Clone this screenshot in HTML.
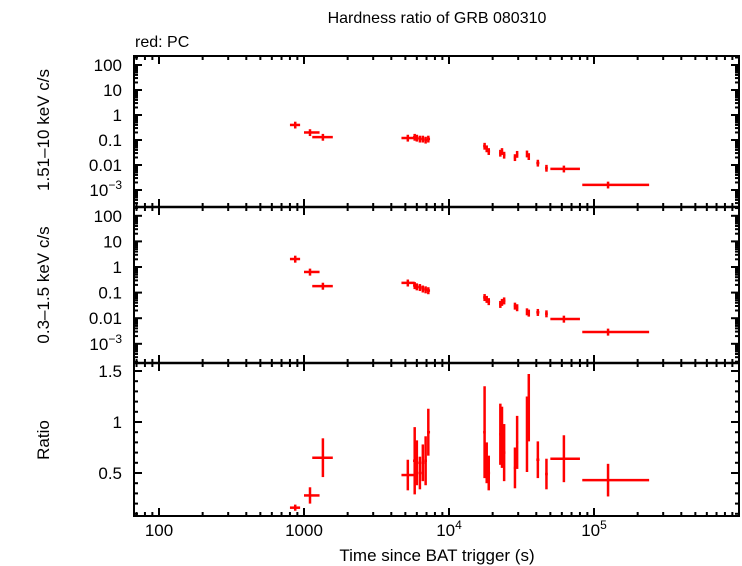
<!DOCTYPE html>
<html><head><meta charset="utf-8"><style>
body{margin:0;background:#fff;}
svg{display:block;font-family:"Liberation Sans",sans-serif;}
</style></head><body>
<svg id="c" width="742" height="566" viewBox="0 0 742 566">
<text x="437" y="23" font-size="16" text-anchor="middle">Hardness ratio of GRB 080310</text>
<text x="135" y="47" font-size="16">red: PC</text>
<text transform="translate(49,130) rotate(-90)" font-size="17" text-anchor="middle">1.51–10 keV c/s</text>
<text transform="translate(49,285) rotate(-90)" font-size="17" text-anchor="middle">0.3–1.5 keV c/s</text>
<text transform="translate(49,440) rotate(-90)" font-size="17" text-anchor="middle">Ratio</text>
<text x="437" y="561" font-size="17" text-anchor="middle">Time since BAT trigger (s)</text>
<g id="g"></g>
</svg>
<script>
const times = [870,1100,1350,5200,5800,6000,6300,6600,6900,7200,17600,18200,18800,22600,23200,24000,28500,29500,34500,35500,41000,47000,62000,125000];
const timeLo = [800,1000,1140,4700,5650,5850,6150,6450,6750,7050,17200,17900,18500,22200,22900,23600,28000,29000,34000,35000,40000,46000,50000,83000];
const timeHi = [940,1280,1580,5800,5950,6150,6450,6750,7050,7400,17900,18500,19200,22900,23600,24500,29000,30000,35000,36000,42000,48000,80000,240000];
const hardRate = [0.4,0.2,0.13,0.12,0.13,0.12,0.11,0.11,0.10,0.11,0.057,0.045,0.035,0.03,0.035,0.025,0.02,0.027,0.028,0.022,0.012,0.0075,0.007,0.0016];
const softRate = [2.05,0.64,0.18,0.24,0.19,0.17,0.16,0.14,0.13,0.12,0.065,0.055,0.045,0.035,0.042,0.048,0.03,0.026,0.018,0.016,0.017,0.015,0.0093,0.0029];
const ratio = [0.16,0.28,0.65,0.48,0.62,0.6,0.5,0.6,0.62,0.9,0.9,0.6,0.5,0.88,0.85,0.7,0.55,0.8,0.88,1.14,0.63,0.49,0.64,0.43];
const ratioErr = [0.03,0.08,0.19,0.15,0.33,0.22,0.16,0.18,0.24,0.23,0.45,0.2,0.17,0.3,0.3,0.28,0.2,0.26,0.37,0.33,0.18,0.15,0.23,0.16];
const logTickLabels = ["100","10","1","0.1","0.01","10^-3"];
const logTickValues = [100,10,1,0.1,0.01,0.001];
const ratioTickLabels = ["0.5","1","1.5"];
const ratioTickValues = [0.5,1,1.5];
const xTickValues = [100,1000,10000,100000];
const xTickLabels = ["100","1000","10^4","10^5"];

const NS="http://www.w3.org/2000/svg";
const g=document.getElementById('g');
const L=134,R=739;
const X=t=>159+(Math.log10(t)-2)*145;
const P1={top:56,bot:207,y:v=>115-Math.log10(v)*25};
const P2={top:207,bot:363,y:v=>267-Math.log10(v)*25.6};
const P3={top:363,bot:516,y:v=>422-(v-1)*102};
function mk(tag,at){const e=document.createElementNS(NS,tag);for(const k in at)e.setAttribute(k,at[k]);g.appendChild(e);return e;}
function line(x1,y1,x2,y2,c,w){return mk('line',{x1,y1,x2,y2,stroke:c,'stroke-width':w});}
function txt(x,y,s,anchor){
  const e=mk('text',{x,y,'font-size':17,'text-anchor':anchor});
  const m=s.split('^');
  e.appendChild(document.createTextNode(m[0]));
  if(m[1]){const ts=document.createElementNS(NS,'tspan');ts.setAttribute('dy','-7');ts.setAttribute('font-size','12');ts.textContent=m[1].replace('-','−');e.appendChild(ts);}
  return e;
}
[P1,P2,P3].forEach(p=>{
  for(let d=1;d<=5;d++)for(let k=1;k<10;k++){
    const t=k*Math.pow(10,d),x=X(t);if(x<L||x>R)continue;
    const len=k===1?8:4;
    line(x,p.top,x,p.top+len,'#000',2);line(x,p.bot,x,p.bot-len,'#000',2);
  }
});
[P1,P2].forEach((p,pi)=>{
  for(let d=-4;d<=2;d++)for(let k=1;k<10;k++){
    const v=k*Math.pow(10,d),y=p.y(v);if(y<p.top||y>p.bot)continue;
    const len=k===1?8:4;
    line(L,y,L+len,y,'#000',2);line(R,y,R-len,y,'#000',2);
  }
  logTickValues.forEach((v,i)=>{
    const e=txt(122,p.y(v)+6,logTickLabels[i],'end');
    
    
  });
});
for(let v=0.1;v<1.58;v+=0.1){const y=P3.y(v);const maj=Math.abs(v*2-Math.round(v*2))<0.01;line(L,y,L+(maj?8:4),y,'#000',2);line(R,y,R-(maj?8:4),y,'#000',2);}
ratioTickValues.forEach((v,i)=>{
  const e=txt(122,P3.y(v)+6,ratioTickLabels[i],'end');
  
  
});
xTickValues.forEach((t,i)=>{
  const e=txt(X(t),536,xTickLabels[i],'middle');
  
  
});
mk('rect',{x:L,y:56,width:R-L,height:516-56,fill:'none',stroke:'#000','stroke-width':2});
line(L,207,R,207,'#000',2.5);line(L,363,R,363,'#000',2.5);
const RED='#ff0000';
times.forEach((t,i)=>{
  const x=X(t),x1=X(timeLo[i]),x2=X(timeHi[i]);
  let y=P1.y(hardRate[i]);
  let e=mk('g',{});
  
  
  line(x1,y,x2,y,RED,2.5);line(x,P1.y(hardRate[i]*1.35),x,P1.y(hardRate[i]*0.72),RED,2.5);
  y=P2.y(softRate[i]);
  e=mk('g',{});
  
  
  line(x1,y,x2,y,RED,2.5);line(x,P2.y(softRate[i]*1.35),x,P2.y(softRate[i]*0.72),RED,2.5);
  y=P3.y(ratio[i]);
  e=mk('g',{});
  
  
  line(x1,y,x2,y,RED,2.5);line(x,P3.y(ratio[i]+ratioErr[i]),x,Math.min(P3.bot,P3.y(ratio[i]-ratioErr[i])),RED,2.5);
});
</script>
</body></html>
